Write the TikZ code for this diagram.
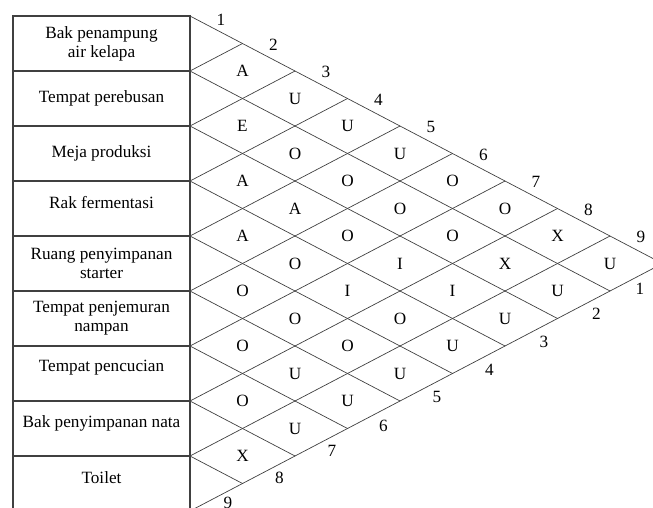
\documentclass[tikz,border=0pt]{standalone}
\usepackage{fontspec}
\setmainfont{Liberation Serif}
\tikzset{
  room/.style={draw=black!75, line width=1.1pt, minimum width=177pt, minimum height=55pt, inner sep=0pt},
  roomtext/.style={align=center, inner sep=0pt, font=\fontsize{17.2}{19}\selectfont},
  grid/.style={draw=black!75, line width=0.7pt},
  rel/.style={inner sep=0pt, font=\fontsize{17.2}{19}\selectfont},
  num/.style={inner sep=0pt, font=\fontsize{17.2}{19}\selectfont},
}
\begin{document}
\begin{tikzpicture}[x=1pt, y=-1pt]
\useasboundingbox (0,0) rectangle (653,507);
\clip (0,0) rectangle (653,507);

% activity boxes
\foreach \i in {1,...,9}
  \node[room] (r\i) at (101.5,{43.5+55*(\i-1)}) {};

\node[roomtext] (n1) at (r1) {Bak penampung\\air kelapa};
\node[roomtext] (n2) at (r2) {Tempat perebusan};
\node[roomtext] (n3) at (r3) {Meja produksi};
\node[roomtext] (n4) at ([yshift=6pt]r4) {Rak fermentasi};
\node[roomtext] (n5) at (r5) {Ruang penyimpanan\\starter};
\node[roomtext] (n6) at (r6) {Tempat penjemuran\\nampan};
\node[roomtext] (n7) at ([yshift=6pt]r7) {Tempat pencucian};
\node[roomtext] (n8) at ([yshift=5pt]r8) {Bak penyimpanan nata};
\node[roomtext] (n9) at ([yshift=6pt]r9) {Toilet};

% grid points: left edge, top edge, bottom edge
\foreach \k in {0,...,9} {
  \coordinate (L\k) at (190,{16+55*\k});
  \coordinate (T\k) at ({190+52.5*\k},{16+27.5*\k});
  \coordinate (B\k) at ({190+52.5*\k},{511-27.5*\k});
}

\foreach \i in {0,...,8} {
  \pgfmathtruncatemacro{\m}{9-\i}
  \draw[grid] (L\i) -- (B\m);
}
\foreach \j in {1,...,9}
  \draw[grid] (L\j) -- (T\j);

% relationship codes
\foreach \i/\j/\r in {1/2/A,1/3/U,1/4/U,1/5/U,1/6/O,1/7/O,1/8/X,1/9/U,
                      2/3/E,2/4/O,2/5/O,2/6/O,2/7/O,2/8/X,2/9/U,
                      3/4/A,3/5/A,3/6/O,3/7/I,3/8/I,3/9/U,
                      4/5/A,4/6/O,4/7/I,4/8/O,4/9/U,
                      5/6/O,5/7/O,5/8/O,5/9/U,
                      6/7/O,6/8/U,6/9/U,
                      7/8/O,7/9/U,
                      8/9/X}
  \node[rel] (c\i\j) at ({190+52.5*(\j-\i)},{16+27.5*(\i+\j-1)}) {\r};

% numbers along the edges
\foreach \k/\dy in {1/-4,2/-1,3/-1,4/-1,5/-1,6/-1,7/-1,8/-1,9/-1} {
  \pgfmathtruncatemacro{\p}{\k-1}
  \node[num] (top\k) at ([xshift=31pt, yshift=\dy pt]T\p) {\k};
}
\foreach \k/\dx/\dy in {1/30/2,2/39/5,3/39/4,4/37/4,5/37/4,6/36/3,7/37/5,8/37/6,9/38/8} {
  \pgfmathtruncatemacro{\m}{9-\k}
  \node[num] (bot\k) at ([xshift=\dx pt, yshift=\dy pt]B\m) {\k};
}
\end{tikzpicture}
\end{document}
